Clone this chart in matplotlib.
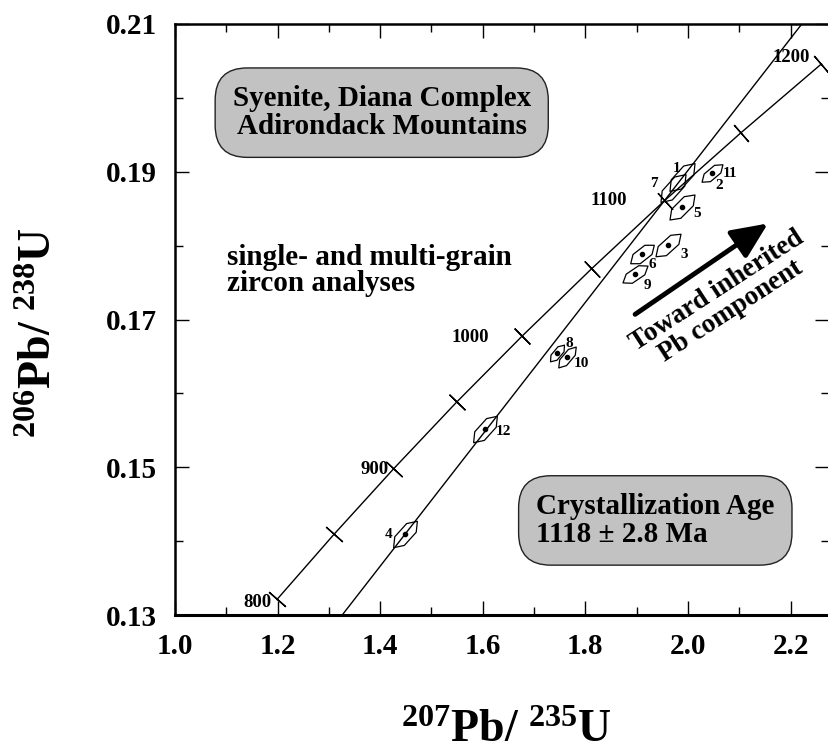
import numpy as np
import matplotlib
matplotlib.use("Agg")
import matplotlib.pyplot as plt
from matplotlib.path import Path

plt.rcParams['font.family'] = ['Liberation Serif', 'DejaVu Serif']
plt.rcParams['font.weight'] = 'bold'
plt.rcParams['mathtext.fontset'] = 'custom'
plt.rcParams['mathtext.rm'] = 'Liberation Serif:bold'
plt.rcParams['mathtext.it'] = 'Liberation Serif:bold'
plt.rcParams['mathtext.bf'] = 'Liberation Serif:bold'
plt.rcParams['mathtext.default'] = 'rm'

# concordia (age in Ma -> 207Pb/235U, 206Pb/238U), ticks every 50 Ma
ages = [800, 850, 900, 950, 1000, 1050, 1100, 1150, 1200]
conc_x = [1.1988, 1.3097, 1.4263, 1.5488, 1.6774, 1.8126, 1.9545, 2.1037, 2.2603]
conc_y = [0.1321, 0.1409, 0.1498, 0.1588, 0.1678, 0.1769, 0.1861, 0.1953, 0.2046]
age_labels = ["800", "900", "1000", "1100", "1200"]
age_lab_x = [1.160, 1.390, 1.575, 1.846, 2.201]
age_lab_y = [0.1317, 0.1497, 0.1676, 0.1861, 0.2054]

# discordia line
disc_x = [1.326, 2.222]
disc_y = [0.130, 0.210]

# zircon analyses
spot_x = [1.988, 1.971, 2.047, 1.988, 1.961, 1.910, 1.897, 1.745, 1.764, 1.604, 1.448]
spot_y = [0.1893, 0.1878, 0.1898, 0.1852, 0.1801, 0.1789, 0.1762, 0.1655, 0.1649, 0.1552, 0.1409]
spot_dot = [False, False, True, True, True, True, True, True, True, True, True]

# spot number labels
num_text = ["1", "7", "11", "2", "5", "3", "6", "9", "8", "10", "12", "4"]
num_x = [1.977, 1.934, 2.082, 2.060, 2.018, 1.992, 1.930, 1.920, 1.768, 1.793, 1.641, 1.417]
num_y = [0.1905, 0.1884, 0.1897, 0.1882, 0.1843, 0.1788, 0.1774, 0.1746, 0.1668, 0.1640, 0.1548, 0.1409]

# ellipse look (display length in pt, width ratio, angle)
ell_len = [20, 20, 15, 18, 18, 17, 18, 12, 15, 19, 19]
ell_ratio = [0.42, 0.42, 0.42, 0.42, 0.42, 0.45, 0.42, 0.42, 0.38, 0.42, 0.42]
ell_ang = [48, 48, 40, 45, 42, 38, 34, 50, 50, 48, 48]


def hex_marker(ratio, angle):
    t = np.radians(np.arange(0, 360, 60))
    v = np.column_stack([np.cos(t), ratio * np.sin(t)])
    a = np.radians(angle)
    rot = np.array([[np.cos(a), -np.sin(a)], [np.sin(a), np.cos(a)]])
    v = v @ rot.T
    v = np.vstack([v, v[:1]])
    return Path(v, closed=True)


fig = plt.figure(figsize=(8.29, 7.55), dpi=100)
ax = fig.add_axes([175 / 829, 140 / 755, 654 / 829, 591 / 755])
ax.set_xlim(1.0, 2.275)
ax.set_ylim(0.13, 0.21)

# concordia
ax.plot(conc_x, conc_y, color='black', lw=1.0)
for i in range(len(ages)):
    j0, j1 = max(i - 1, 0), min(i + 1, len(ages) - 1)
    p0 = ax.transData.transform((conc_x[j0], conc_y[j0]))
    p1 = ax.transData.transform((conc_x[j1], conc_y[j1]))
    ang = np.degrees(np.arctan2(p1[1] - p0[1], p1[0] - p0[0]))
    ax.plot(conc_x[i], conc_y[i], marker=(2, 2, ang), ms=16, mew=1.0, color='black')
for s, x, y in zip(age_labels, age_lab_x, age_lab_y):
    ax.text(x, y, s, fontsize=13.5, ha='center', va='center')

# discordia
ax.plot(disc_x, disc_y, color='black', lw=1.0)

# analyses
for i in range(len(spot_x)):
    ax.plot(spot_x[i], spot_y[i], marker=hex_marker(ell_ratio[i], ell_ang[i]),
            ms=ell_len[i], mfc='none', mec='black', mew=0.9, ls='none')
    if spot_dot[i]:
        ax.plot(spot_x[i], spot_y[i], 'o', ms=3, color='black')
for s, x, y in zip(num_text, num_x, num_y):
    ax.text(x, y, s, fontsize=11, ha='center', va='center')

# boxes and notes
box = dict(boxstyle='round,pad=0.6,rounding_size=1.1', fc='#c2c2c2', ec='#222222', lw=1.0)
ax.text(1.403, 0.1980, "Syenite, Diana Complex\nAdirondack Mountains", fontsize=21,
        ha='center', va='center', linespacing=1.02, bbox=box)
ax.text(1.704, 0.1428, "Crystallization Age\n1118 \u00b1 2.8 Ma", fontsize=21,
        ha='left', va='center', linespacing=1.02, bbox=box)
ax.text(1.101, 0.1766, "single- and multi-grain\nzircon analyses", fontsize=21,
        ha='left', va='center', linespacing=0.95)
ax.text(2.070, 0.1725, "Toward inherited\nPb component", fontsize=19.5, rotation=33,
        ha='center', va='center', linespacing=0.95, rotation_mode='anchor')
ax.annotate('', xy=(2.156, 0.1830), xytext=(1.897, 0.1707),
            arrowprops=dict(arrowstyle='-|>,head_length=1.0,head_width=0.45',
                            lw=3.5, color='black', mutation_scale=22,
                            shrinkA=0, shrinkB=0))

# axes styling
ax.set_xticks([1.0, 1.2, 1.4, 1.6, 1.8, 2.0, 2.2])
ax.set_xticks(np.arange(1.1, 2.3, 0.2), minor=True)
ax.set_yticks([0.13, 0.15, 0.17, 0.19, 0.21])
ax.set_yticks([0.14, 0.16, 0.18, 0.20], minor=True)
ax.set_xticklabels(["1.0", "1.2", "1.4", "1.6", "1.8", "2.0", "2.2"])
ax.set_yticklabels(["0.13", "0.15", "0.17", "0.19", "0.21"])
ax.tick_params(which='both', direction='in', top=True, right=True, labelsize=21, pad=13, width=1.0)
ax.tick_params(which='major', length=10)
ax.tick_params(which='minor', length=6)
ax.spines['bottom'].set_linewidth(2.2)
ax.spines['left'].set_linewidth(1.8)
ax.spines['top'].set_linewidth(1.8)
ax.spines['right'].set_visible(False)

fig.text(506 / 829, 1 - 742 / 755, r"$^{207}$Pb/ $^{235}$U", fontsize=33,
         ha='center', va='baseline')
fig.text(40 / 829, 1 - 333 / 755, r"$^{206}$Pb/ $^{238}$U", fontsize=33,
         ha='center', va='center', rotation=90)

fig.savefig("out.png", dpi=100)
